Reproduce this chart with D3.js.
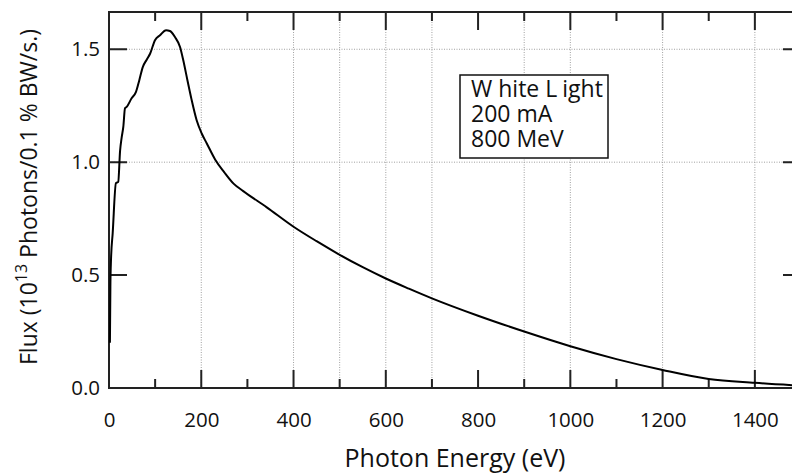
<!DOCTYPE html>
<html>
<head>
<meta charset="utf-8">
<script src="https://cdn.jsdelivr.net/npm/d3@7"></script>
<style>
  html, body { margin: 0; padding: 0; background: #fff; }
  svg { display: block; font-family: 'Open Sans', sans-serif; }
</style>
</head>
<body>
<div id="chart"></div>
<script>
// Photon energy (eV) and flux (10^13 photons / 0.1% BW / s)
const ENERGY = [2, 3, 4.3, 8, 15, 20, 24, 27.5, 31, 34.7, 38.4, 49, 58.5, 65.7, 73, 81.7, 89, 99.7,
  110.6, 123.6, 132, 143, 154, 161, 170, 179, 190, 201, 212, 230, 250, 270, 291, 342, 400, 450,
  500, 550, 600, 650, 700, 800, 900, 1000, 1100, 1200, 1300, 1400, 1500];
const FLUX = [0.20, 0.45, 0.566, 0.686, 0.907, 0.913, 1.05, 1.11, 1.156, 1.239, 1.245, 1.283, 1.311,
  1.363, 1.42, 1.454, 1.48, 1.54, 1.562, 1.584, 1.581, 1.554, 1.51, 1.451, 1.363, 1.277, 1.186,
  1.127, 1.083, 1.012, 0.955, 0.905, 0.872, 0.80, 0.714, 0.65, 0.59, 0.535, 0.485, 0.44, 0.397,
  0.32, 0.25, 0.185, 0.128, 0.08, 0.04, 0.023, 0.01];

const X_MAJOR = [0, 200, 400, 600, 800, 1000, 1200, 1400];
const X_MINOR = [100, 300, 500, 700, 900, 1100, 1300, 1500];
const Y_TICKS = [0, 0.5, 1.0, 1.5];
const X_GRID = [200, 400, 500, 600, 700, 900, 1000, 1200, 1400];
const Y_GRID = [1.0, 1.5];
const LEGEND_LINES = ['200 mA', '800 MeV'];

const W = 792, H = 474;
const plot = { left: 109, top: 12, right: 801, bottom: 388 };
const MAJOR_LEN = 18, MINOR_LEN = 9;

const svg = d3.select('#chart').append('svg')
  .attr('width', W).attr('height', H);

const x = d3.scaleLinear().domain([0, 1500]).range([plot.left, plot.right]);
const y = d3.scaleLinear().domain([0, 1.665]).range([plot.bottom, plot.top]);

// Dotted grid
const grid = svg.append('g')
  .attr('stroke', '#a0a0a0').attr('stroke-width', 1).attr('stroke-dasharray', '1,1.5');
grid.selectAll('.vg').data(X_GRID).enter().append('line')
  .attr('x1', d => x(d)).attr('x2', d => x(d))
  .attr('y1', plot.top).attr('y2', plot.bottom);
grid.selectAll('.hg').data(Y_GRID).enter().append('line')
  .attr('x1', plot.left).attr('x2', plot.right)
  .attr('y1', d => y(d)).attr('y2', d => y(d));

// Tick labels from d3 axes
function styleAxis(g) {
  g.select('.domain').remove();
  g.selectAll('.tick line').remove();
  g.selectAll('.tick text').attr('fill', '#111').style('font-size', '20.5px')
    .style('font-family', "'Open Sans', sans-serif");
}

svg.append('g').attr('transform', `translate(0,${plot.bottom})`)
  .call(d3.axisBottom(x).tickValues(X_MAJOR).tickSize(0).tickPadding(24)
    .tickFormat(d3.format('d')))
  .call(styleAxis);
svg.append('g').attr('transform', `translate(${plot.left},0)`)
  .call(d3.axisLeft(y).tickValues(Y_TICKS).tickSize(0).tickPadding(9)
    .tickFormat(d3.format('.1f')))
  .call(styleAxis);

// Inward tick marks on all four sides, one path
const tickPath = d3.path();
function xTicks(vals, len) {
  vals.forEach(v => {
    tickPath.moveTo(x(v), plot.bottom); tickPath.lineTo(x(v), plot.bottom - len);
    tickPath.moveTo(x(v), plot.top); tickPath.lineTo(x(v), plot.top + len);
  });
}
xTicks(X_MAJOR, MAJOR_LEN);
xTicks(X_MINOR, MINOR_LEN);
Y_TICKS.forEach(v => {
  tickPath.moveTo(plot.left, y(v)); tickPath.lineTo(plot.left + MAJOR_LEN, y(v));
  tickPath.moveTo(plot.right, y(v)); tickPath.lineTo(plot.right - MAJOR_LEN, y(v));
});
svg.append('path')
  .attr('d', tickPath.toString())
  .attr('fill', 'none').attr('stroke', '#222').attr('stroke-width', 2);

// Frame
svg.append('rect')
  .attr('x', plot.left).attr('y', plot.top)
  .attr('width', plot.right - plot.left).attr('height', plot.bottom - plot.top)
  .attr('fill', 'none').attr('stroke', '#222').attr('stroke-width', 2);

// Flux curve
const pts = ENERGY.map((e, i) => [e, FLUX[i]]);
svg.append('path')
  .datum(pts)
  .attr('fill', 'none').attr('stroke', '#000').attr('stroke-width', 2)
  .attr('stroke-linejoin', 'round')
  .attr('d', d3.line().x(d => x(d[0])).y(d => y(d[1])).curve(d3.curveMonotoneX));

// Legend box
const lg = svg.append('g');
lg.append('rect')
  .attr('x', 460).attr('y', 75).attr('width', 148).attr('height', 83)
  .attr('fill', '#fff').attr('stroke', '#111').attr('stroke-width', 1.5);
const head = lg.append('text').attr('x', 471).attr('y', 97)
  .style('font-size', '23px').attr('fill', '#111');
head.append('tspan').text('W');
head.append('tspan').attr('dx', 6).text('hite ');
head.append('tspan').text('L');
head.append('tspan').attr('dx', 5).text('ight');
lg.selectAll('.lgline').data(LEGEND_LINES).enter().append('text')
  .attr('x', 471).attr('y', (d, i) => 122 + i * 25)
  .style('font-size', '23px').attr('fill', '#111')
  .text(d => d);

// Axis titles
svg.append('text')
  .attr('x', (plot.left + plot.right) / 2).attr('y', 467)
  .attr('text-anchor', 'middle').style('font-size', '25px').attr('fill', '#111')
  .text('Photon Energy (eV)');

const yt = svg.append('text')
  .attr('transform', `translate(37,197) rotate(-90)`)
  .attr('text-anchor', 'middle').style('font-size', '23px').attr('fill', '#111');
yt.append('tspan').text('Flux (10');
yt.append('tspan').attr('dy', -10).style('font-size', '16px').text('13');
yt.append('tspan').attr('dy', 10).text(' Photons/0.1 % BW/s.)');
</script>
</body>
</html>
